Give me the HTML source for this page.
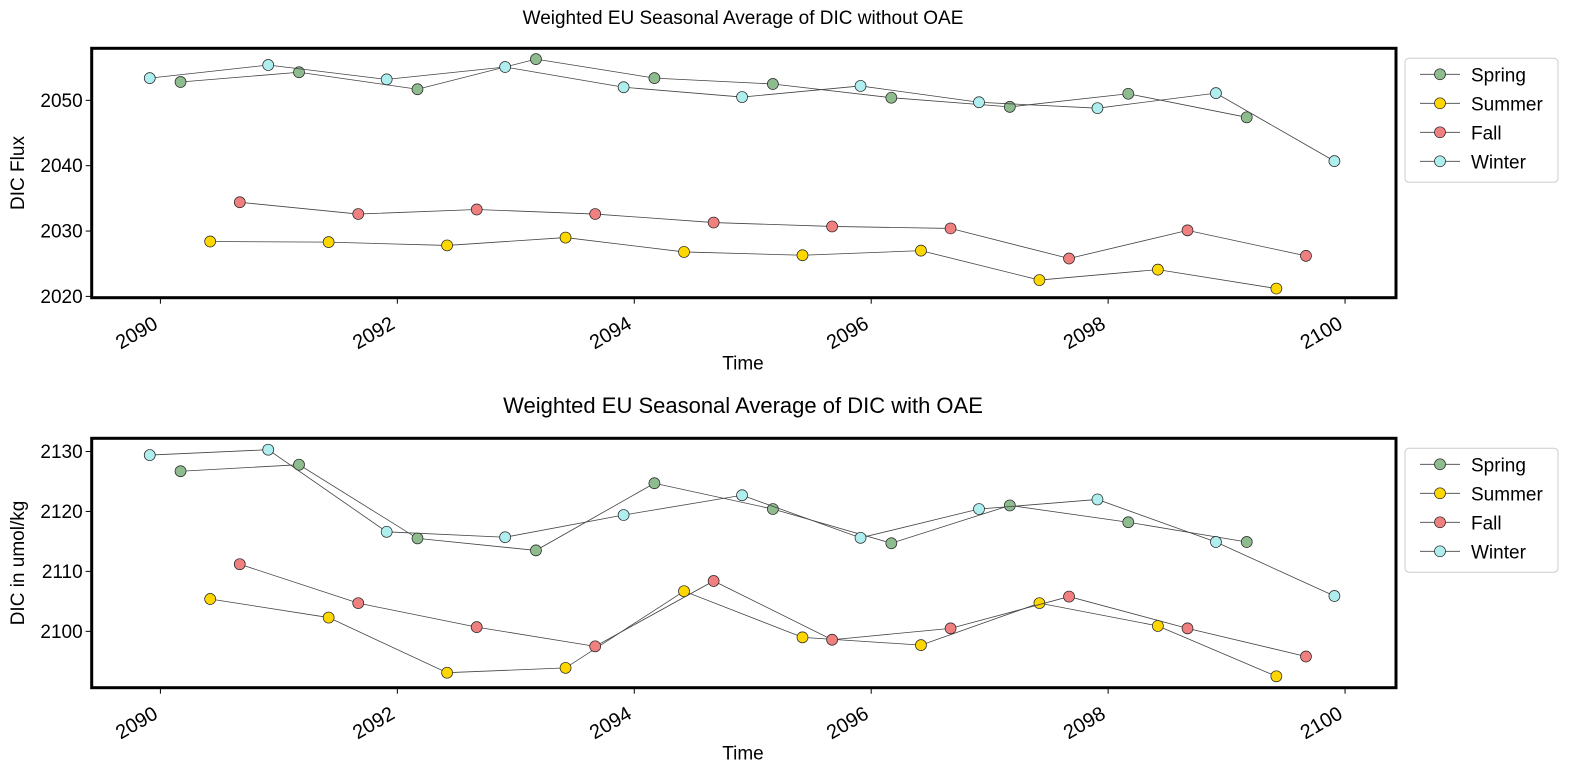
<!DOCTYPE html>
<html><head><meta charset="utf-8">
<style>
html,body{margin:0;background:#fff;overflow:hidden;}
svg{display:block;font-family:"Liberation Sans",Arial,sans-serif;}
</style></head>
<body>
<svg id="chart" width="1575" height="773" viewBox="0 0 1575 773" xmlns="http://www.w3.org/2000/svg"></svg>
<script>
// ---- data ----
const seasons = ["Spring","Summer","Fall","Winter"];
const seasonOffsets = [0.17, 0.42, 0.67, -0.09];
const years = [2090,2091,2092,2093,2094,2095,2096,2097,2098,2099];
const winterYears = [2090,2091,2092,2093,2094,2095,2096,2097,2098,2099,2100];
const xTicks = [2090,2092,2094,2096,2098,2100];

const topSpring = [2052.8,2054.3,2051.7,2056.3,2053.4,2052.5,2050.4,2049.0,2051.0,2047.4];
const topSummer = [2028.4,2028.3,2027.8,2029.0,2026.8,2026.3,2027.0,2022.5,2024.1,2021.2];
const topFall   = [2034.4,2032.6,2033.3,2032.6,2031.3,2030.7,2030.4,2025.8,2030.1,2026.2];
const topWinter = [2053.4,2055.4,2053.2,2055.1,2052.0,2050.5,2052.2,2049.7,2048.8,2051.1,2040.7];
const topYTicks = [2020,2030,2040,2050];

const botSpring = [2126.7,2127.8,2115.5,2113.5,2124.7,2120.4,2114.7,2121.0,2118.2,2114.9];
const botSummer = [2105.4,2102.3,2093.1,2093.9,2106.7,2099.0,2097.7,2104.7,2100.9,2092.5];
const botFall   = [2111.2,2104.7,2100.7,2097.5,2108.4,2098.6,2100.5,2105.8,2100.5,2095.8];
const botWinter = [2129.4,2130.3,2116.6,2115.7,2119.4,2122.7,2115.6,2120.4,2122.0,2114.9,2105.9];
const botYTicks = [2100,2110,2120,2130];

const colors = ["#8fbc8f","#ffd700","#f08080","#afeeee"];
const NS = "http://www.w3.org/2000/svg";
const svg = document.getElementById("chart");
function el(tag, attrs, parent){const e=document.createElementNS(NS,tag);for(const k in attrs)e.setAttribute(k,attrs[k]);(parent||svg).appendChild(e);return e;}

function panel(cfg){
  const L=91.7,R=1396,T=cfg.top,B=cfg.bottom;
  const xMin=2089.42,xMax=2100.43;
  const xs=v=>L+(v-xMin)/(xMax-xMin)*(R-L);
  const ys=v=>B-(v-cfg.yMin)/(cfg.yMax-cfg.yMin)*(B-T);
  const g=el("g",{});
  
  
  const t=el("text",{x:743,y:cfg.titleY,"text-anchor":"middle","font-size":cfg.titleSize,fill:"#000"},g);
  t.textContent=cfg.title;
  
  
  const series=[cfg.s[0],cfg.s[1],cfg.s[2],cfg.s[3]];
  series.forEach((vals,si)=>{
    const yrs = si===3 ? winterYears : years;
    const pts = vals.map((v,i)=>[xs(yrs[i]+seasonOffsets[si]),ys(v)]);
    const pl=el("polyline",{points:pts.map(p=>p.join(",")).join(" "),fill:"none",stroke:"#444","stroke-width":0.8},g);
    
    
    pts.forEach(p=>{
      const c=el("circle",{cx:p[0],cy:p[1],r:5.5,fill:colors[si],stroke:"#222","stroke-width":0.7},g);
      
      
    });
  });
  const box=el("rect",{x:L,y:T,width:R-L,height:B-T,fill:"none",stroke:"#000","stroke-width":3},g);
  
  
  cfg.yTicks.forEach(v=>{
    const y=ys(v);
    el("line",{x1:L-6,x2:L,y1:y,y2:y,stroke:"#000","stroke-width":1},g);
    const tx=el("text",{x:L-9,y:y+6.5,"text-anchor":"end","font-size":19},g);
    tx.textContent=v;
    
    
  });
  xTicks.forEach(v=>{
    const x=xs(v);
    el("line",{x1:x,x2:x,y1:B,y2:B+6,stroke:"#000","stroke-width":1},g);
    const ax=x-8, ay=B+18;
    const tx=el("text",{x:ax,y:ay,"text-anchor":"end","font-size":20,transform:`rotate(-30 ${ax} ${ay})`,"dominant-baseline":"hanging"},g);
    tx.textContent=v;
    
    
  });
  const xl=el("text",{x:743,y:B+72,"text-anchor":"middle","font-size":19},g);
  xl.textContent="Time";
  
  
  const cy=(T+B)/2;
  const yl=el("text",{x:24,y:cy,"text-anchor":"middle","font-size":19,transform:`rotate(-90 24 ${cy})`},g);
  yl.textContent=cfg.ylabel;
  
  
  const lg=el("g",{},g);
  
  
  el("rect",{x:1405,y:T+10,width:153,height:124,rx:4,fill:"#fff",stroke:"#ccc","stroke-width":1},lg);
  seasons.forEach((s,i)=>{
    const ry=T+26+i*29;
    el("line",{x1:1420,x2:1460,y1:ry,y2:ry,stroke:"#444","stroke-width":0.8},lg);
    el("circle",{cx:1440,cy:ry,r:5.5,fill:colors[i],stroke:"#222","stroke-width":0.7},lg);
    const lt=el("text",{x:1471,y:ry+7,"font-size":19},lg);
    lt.textContent=s;
    
    
  });
}
panel({name:"top-panel",top:48.3,bottom:297.7,yMin:2019.8,yMax:2057.96,title:"Weighted EU Seasonal Average of DIC without OAE",titleY:24,titleSize:19,ylabel:"DIC Flux",yTicks:topYTicks,s:[topSpring,topSummer,topFall,topWinter]});
panel({name:"bottom-panel",top:438.3,bottom:687.7,yMin:2090.6,yMax:2132.2,title:"Weighted EU Seasonal Average of DIC with OAE",titleY:413,titleSize:22,ylabel:"DIC in umol/kg",yTicks:botYTicks,s:[botSpring,botSummer,botFall,botWinter]});
</script>
</body></html>
